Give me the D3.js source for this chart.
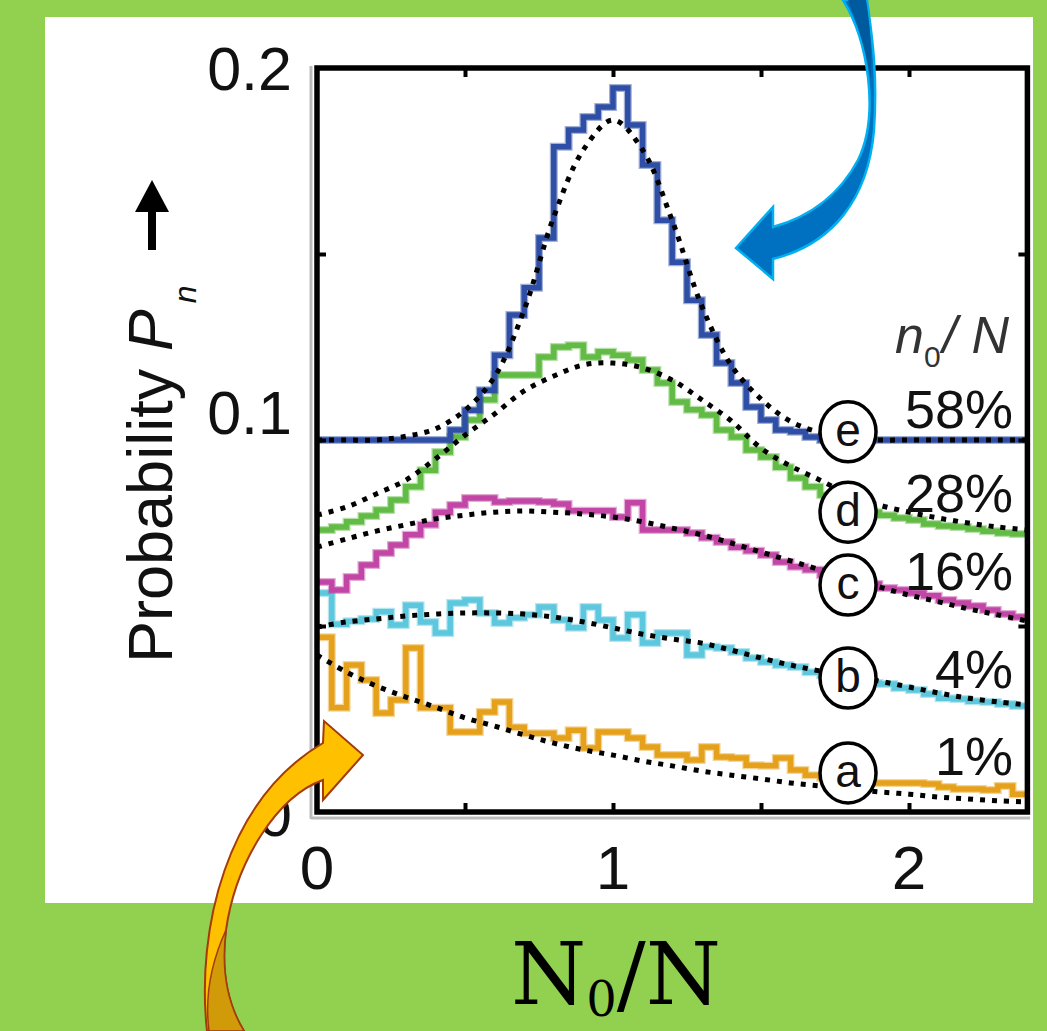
<!DOCTYPE html>
<html>
<head>
<meta charset="utf-8">
<script src="https://cdn.jsdelivr.net/npm/d3@7"></script>
<style>
body { margin: 0; background: #92d050; }
svg { display: block; }
</style>
</head>
<body>
<div id="figure"></div>
<script>
var w = 1047;
var h = 1031;

// histogram bins, width 0.05 in N0/N, starting at 0
var binWidth = 0.05;
var seriesA = [0.047, 0.028, 0.0395, 0.0355, 0.0266, 0.0301, 0.0441, 0.028, 0.028, 0.0215, 0.0215, 0.0269, 0.0296, 0.0228, 0.0212, 0.0212, 0.0199, 0.022, 0.0172, 0.0215, 0.0215, 0.0199, 0.0175, 0.0153, 0.0153, 0.014, 0.0175, 0.0148, 0.0145, 0.0126, 0.0124, 0.0145, 0.0113, 0.0099, 0.0092, 0.0086, 0.0081, 0.0078, 0.0078, 0.0078, 0.0078, 0.0075, 0.0067, 0.0062, 0.0062, 0.0059, 0.007, 0.0048];
var seriesB = [0.0589, 0.0505, 0.0513, 0.0519, 0.0538, 0.0503, 0.0556, 0.0511, 0.0481, 0.0562, 0.057, 0.0535, 0.0508, 0.0522, 0.053, 0.0551, 0.0516, 0.0495, 0.0551, 0.0516, 0.0468, 0.053, 0.0454, 0.0481, 0.0481, 0.0422, 0.0444, 0.0441, 0.043, 0.0414, 0.0403, 0.0395, 0.039, 0.0376, 0.0368, 0.036, 0.0353, 0.0347, 0.0344, 0.0333, 0.0328, 0.0317, 0.0306, 0.0304, 0.0298, 0.0296, 0.029, 0.0285];
var seriesC = [0.0618, 0.0597, 0.0632, 0.0664, 0.0696, 0.0718, 0.0745, 0.0772, 0.0806, 0.0825, 0.0844, 0.0844, 0.0833, 0.0836, 0.0836, 0.0833, 0.0828, 0.081, 0.081, 0.081, 0.0793, 0.0831, 0.0758, 0.0758, 0.0758, 0.075, 0.0737, 0.0726, 0.0712, 0.0702, 0.0691, 0.0672, 0.0659, 0.0651, 0.0637, 0.0629, 0.0621, 0.0613, 0.0602, 0.0597, 0.0589, 0.0581, 0.057, 0.0562, 0.0554, 0.0543, 0.0532, 0.0524];
var seriesD = [0.0758, 0.0766, 0.078, 0.0796, 0.0812, 0.0839, 0.0874, 0.0919, 0.0968, 0.1008, 0.1054, 0.1108, 0.1175, 0.1175, 0.1175, 0.1223, 0.125, 0.1255, 0.1223, 0.1237, 0.1228, 0.1215, 0.1188, 0.1153, 0.1102, 0.1081, 0.1067, 0.1027, 0.1008, 0.0973, 0.0954, 0.0927, 0.0898, 0.0874, 0.0852, 0.0833, 0.0817, 0.0806, 0.0798, 0.079, 0.0785, 0.0774, 0.0769, 0.0766, 0.0761, 0.0755, 0.075, 0.0747];
var seriesE = [0.1, 0.1, 0.1, 0.1, 0.1, 0.1, 0.1, 0.1, 0.1, 0.1027, 0.108, 0.1134, 0.1228, 0.1336, 0.1409, 0.1543, 0.1788, 0.1833, 0.1868, 0.1895, 0.1946, 0.1847, 0.1739, 0.1591, 0.1478, 0.1376, 0.1282, 0.1207, 0.1153, 0.1089, 0.1054, 0.1027, 0.1022, 0.1008, 0.1, 0.1, 0.1, 0.1, 0.1, 0.1, 0.1, 0.1, 0.1, 0.1, 0.1, 0.1, 0.1, 0.1];

// dashed fits
var fitX = [0, 0.1, 0.2, 0.3, 0.4, 0.5, 0.6, 0.7, 0.8, 0.9, 1.0, 1.1, 1.2, 1.3, 1.4, 1.5, 1.6, 1.7, 1.8, 1.9, 2.0, 2.1, 2.2, 2.3, 2.4];
var fitA = [0.0422, 0.0376, 0.0339, 0.0309, 0.0282, 0.0253, 0.0231, 0.0207, 0.0185, 0.0167, 0.0153, 0.0137, 0.0124, 0.011, 0.0099, 0.0089, 0.0078, 0.007, 0.0062, 0.0054, 0.0048, 0.004, 0.0035, 0.003, 0.0027];
var fitB = [0.0497, 0.0511, 0.0519, 0.0527, 0.0532, 0.0535, 0.0535, 0.0532, 0.0524, 0.0511, 0.0495, 0.0478, 0.0465, 0.0454, 0.0435, 0.0414, 0.0395, 0.0379, 0.0366, 0.0352, 0.0336, 0.032, 0.0306, 0.0296, 0.0288];
var fitC = [0.0712, 0.0734, 0.0755, 0.0772, 0.0788, 0.0798, 0.0806, 0.0809, 0.0806, 0.0801, 0.0793, 0.078, 0.0763, 0.0745, 0.0723, 0.0699, 0.0675, 0.0651, 0.0629, 0.0605, 0.0583, 0.0565, 0.0546, 0.053, 0.0513];
var fitD = [0.0798, 0.082, 0.0855, 0.0892, 0.0949, 0.1013, 0.107, 0.1132, 0.1172, 0.1202, 0.1207, 0.1194, 0.1161, 0.1108, 0.1051, 0.0978, 0.093, 0.0892, 0.0852, 0.0825, 0.0806, 0.079, 0.0777, 0.0766, 0.0758];
var fitE = [0.1, 0.1, 0.1, 0.101, 0.103, 0.108, 0.117, 0.135, 0.16, 0.178, 0.186, 0.178, 0.159, 0.136, 0.12, 0.111, 0.105, 0.102, 0.1005, 0.1, 0.1, 0.1, 0.1, 0.1, 0.1];

var labelKeys = ["a", "b", "c", "d", "e"];
var labelPct = ["1%", "4%", "16%", "28%", "58%"];
var xTickLabels = [0, 1, 2];
var yTickLabels = [0, 0.1, 0.2];

var colors = ["#e6a11c", "#5cc7dd", "#c146a5", "#62bb44", "#2f4fa6"];

var svg = d3.select('#figure')
	.append('svg')
	.attr('width', w)
	.attr('height', h);

svg.append('rect')
	.attr('width', w).attr('height', h)
	.attr('fill', '#92d050');

svg.append('rect')
	.attr('x', 45).attr('y', 17)
	.attr('width', 988).attr('height', 886)
	.attr('fill', '#fff');

var xScale = d3.scaleLinear().domain([0, 2.4]).range([317, 1027.4]);
var yScale = d3.scaleLinear().domain([0, 0.2]).range([812, 68]);

var plot = svg.append('g').classed('plot', true);

//Step lines
var step = d3.line()
	.x(function(d){ return xScale(d[0]); })
	.y(function(d){ return yScale(d[1]); })
	.curve(d3.curveStepAfter);

var allSeries = [seriesA, seriesB, seriesC, seriesD, seriesE];
allSeries.forEach(function(s, k){
	var pts = s.map(function(v, i){ return [i * binWidth, v]; });
	pts.push([s.length * binWidth, s[s.length - 1]]);
	plot.append('path')
		.datum(pts)
		.attr('d', step)
		.attr('fill', 'none')
		.attr('stroke', colors[k])
		.attr('stroke-opacity', 0.45)
		.attr('stroke-width', 8);
	plot.append('path')
		.datum(pts)
		.attr('d', step)
		.attr('fill', 'none')
		.attr('stroke', colors[k])
		.attr('stroke-width', 5.5);
});

//Fits
var smooth = d3.line()
	.x(function(d){ return xScale(d[0]); })
	.y(function(d){ return yScale(d[1]); })
	.curve(d3.curveCatmullRom);

[fitA, fitB, fitC, fitD, fitE].forEach(function(f){
	plot.append('path')
		.datum(f.map(function(v, i){ return [fitX[i], v]; }))
		.attr('d', smooth)
		.attr('fill', 'none')
		.attr('stroke', '#000')
		.attr('stroke-width', 5)
		.attr('stroke-dasharray', '5,7');
});

//Frame and ticks
svg.append('line')
	.attr('x1', 311).attr('x2', 311).attr('y1', 66).attr('y2', 819)
	.attr('stroke', '#bbb').attr('stroke-width', 3);
svg.append('line')
	.attr('x1', 311).attr('x2', 1030).attr('y1', 818).attr('y2', 818)
	.attr('stroke', '#bbb').attr('stroke-width', 3);

svg.append('rect')
	.attr('x', xScale(0)).attr('y', yScale(0.2))
	.attr('width', xScale(2.4) - xScale(0))
	.attr('height', yScale(0) - yScale(0.2))
	.attr('fill', 'none')
	.attr('stroke', '#000')
	.attr('stroke-width', 5.5);

function tickStyle(g){
	g.select('.domain').remove();
	g.selectAll('.tick line').attr('stroke', '#000').attr('stroke-width', 4);
	g.selectAll('.tick text').remove();
}

var xt = [0.5, 1, 1.5, 2];
var yt = [0.05, 0.1, 0.15];
svg.append('g').attr('transform', 'translate(0,' + yScale(0) + ')')
	.call(d3.axisBottom(xScale).tickValues(xt).tickSize(-9)).call(tickStyle);
svg.append('g').attr('transform', 'translate(0,' + yScale(0.2) + ')')
	.call(d3.axisTop(xScale).tickValues(xt).tickSize(-9)).call(tickStyle);
svg.append('g').attr('transform', 'translate(' + xScale(0) + ',0)')
	.call(d3.axisLeft(yScale).tickValues(yt).tickSize(-9)).call(tickStyle);
svg.append('g').attr('transform', 'translate(' + xScale(2.4) + ',0)')
	.call(d3.axisRight(yScale).tickValues(yt).tickSize(-9)).call(tickStyle);

//Tick labels
svg.append('g')
	.selectAll('text')
	.data(xTickLabels)
	.enter()
	.append('text')
	.attr('x', function(d){ return xScale(d); })
	.attr('y', 889)
	.attr('text-anchor', 'middle')
	.attr('font-family', 'Liberation Sans, Arial, sans-serif')
	.attr('font-size', 62)
	.attr('fill', '#111')
	.text(function(d){ return d; });

var yNudge = {0: 2, 0.1: -28, 0.2: 0};
svg.append('g')
	.selectAll('text')
	.data(yTickLabels)
	.enter()
	.append('text')
	.attr('x', 292)
	.attr('y', function(d){ return yScale(d) + yNudge[d]; })
	.attr('dy', '0.36em')
	.attr('text-anchor', 'end')
	.attr('font-family', 'Liberation Sans, Arial, sans-serif')
	.attr('font-size', 61)
	.attr('fill', '#111')
	.text(function(d){ return d; });

//Y label
var yl = svg.append('text')
	.attr('transform', 'translate(172,663) rotate(-90)')
	.attr('font-family', 'Liberation Sans, Arial, sans-serif')
	.attr('font-size', 63)
	.attr('fill', '#111');
yl.append('tspan').text('Probability ');
yl.append('tspan').attr('font-style', 'italic').text('P');
yl.append('tspan').attr('font-style', 'italic').attr('font-size', 32).attr('dy', 24).attr('dx', 6).text('n');

svg.append('line')
	.attr('x1', 152).attr('x2', 152).attr('y1', 250).attr('y2', 205)
	.attr('stroke', '#000').attr('stroke-width', 8);
svg.append('path')
	.attr('d', 'M135,212 L152,180 L169,212 Z')
	.attr('fill', '#000');

//Series labels
var circleAt = [0.0105, 0.036, 0.061, 0.0806, 0.1022];
var pctAt = [0.0099, 0.0333, 0.0597, 0.0806, 0.1032];
var circleX = xScale(1.794);

var lab = svg.append('g').classed('labels', true);
lab.selectAll('ellipse')
	.data(labelKeys)
	.enter()
	.append('ellipse')
	.attr('cx', circleX)
	.attr('cy', function(d, i){ return yScale(circleAt[i]); })
	.attr('rx', 28).attr('ry', 30)
	.attr('fill', '#fff')
	.attr('stroke', '#000')
	.attr('stroke-width', 3.5);
lab.selectAll('text.key')
	.data(labelKeys)
	.enter()
	.append('text')
	.classed('key', true)
	.attr('x', circleX)
	.attr('y', function(d, i){ return yScale(circleAt[i]); })
	.attr('dy', '0.3em')
	.attr('text-anchor', 'middle')
	.attr('font-family', 'Liberation Sans, Arial, sans-serif')
	.attr('font-size', 46)
	.attr('fill', '#111')
	.text(function(d){ return d; });
lab.selectAll('text.pct')
	.data(labelPct)
	.enter()
	.append('text')
	.classed('pct', true)
	.attr('x', 1013)
	.attr('y', function(d, i){ return yScale(pctAt[i]); })
	.attr('text-anchor', 'end')
	.attr('font-family', 'Liberation Sans, Arial, sans-serif')
	.attr('font-size', 54)
	.attr('fill', '#111')
	.text(function(d){ return d; });

var hdr = svg.append('text')
	.attr('x', 895).attr('y', 353)
	.attr('font-family', 'Liberation Sans, Arial, sans-serif')
	.attr('font-size', 52)
	.attr('font-style', 'italic')
	.attr('fill', '#333');
hdr.append('tspan').text('n');
hdr.append('tspan').attr('font-size', 30).attr('font-style', 'normal').attr('dy', 14).text('0');
hdr.append('tspan').attr('dy', -14).attr('dx', 2).text('/ N');

//Arrows
svg.append('path')
	.attr('d', 'M843,0 C868,40 880,115 858,160 C838,198 805,218 773,227 L773,207 L736,248 L773,279 L773,259 C832,244 868,200 874,130 C878,70 871,30 867,0 Z')
	.attr('fill', '#0070c0')
	.attr('stroke', '#00b0f0')
	.attr('stroke-width', 2.5);
svg.append('path')
	.attr('d', 'M848,0 C858,25 866,50 871,80 C872,50 870,25 866,0 Z')
	.attr('fill', '#005a9e');

svg.append('path')
	.attr('d', 'M207,1031 C196,930 226,800 323,743 L324,721 L363,755 L323,800 L323,780 C278,796 236,860 226,930 C221,970 228,1005 244,1031 Z')
	.attr('fill', '#ffc000')
	.attr('stroke', '#a33b0b')
	.attr('stroke-width', 2);
svg.append('path')
	.attr('d', 'M226,930 C221,970 228,1005 244,1031 L209,1031 C205,1000 210,965 226,930 Z')
	.attr('fill', '#d19a08')
	.attr('stroke', '#a33b0b')
	.attr('stroke-width', 1.5);

//X title
var xt2 = svg.append('text')
	.attr('x', 511).attr('y', 1004)
	.attr('font-family', 'DejaVu Serif, serif')
	.attr('font-size', 86)
	.attr('fill', '#000');
xt2.append('tspan').text('N');
xt2.append('tspan').attr('font-size', 48).attr('dy', 12).text('0');
xt2.append('tspan').attr('dy', -12).text('/N');
</script>
</body>
</html>
